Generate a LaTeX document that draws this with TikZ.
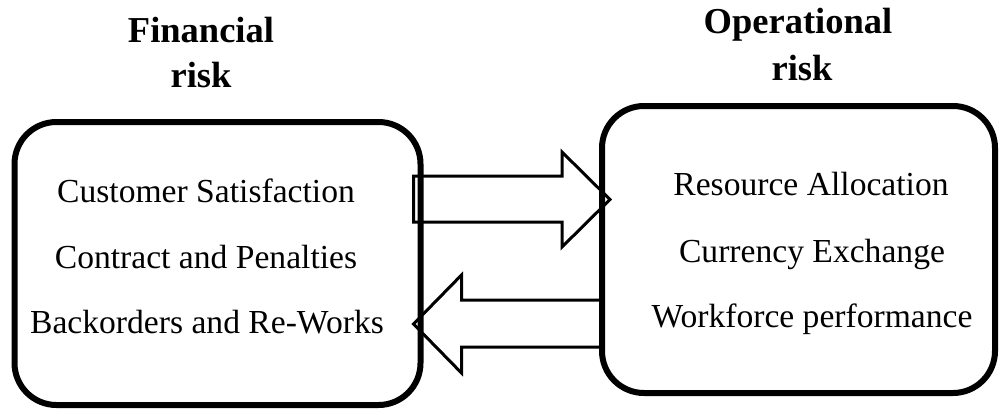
\documentclass[tikz,border=0pt]{standalone}
\usepackage{fontspec}
\setmainfont{Liberation Serif}
\usetikzlibrary{calc}
\begin{document}
\begin{tikzpicture}[x=1pt,y=-1pt,
  riskbox/.style={draw=black, line width=6pt, rounded corners=42pt, inner sep=0pt, outer sep=0pt},
  itemtext/.style={anchor=base, inner sep=0pt, font=\fontsize{33.6}{40}\selectfont},
  titletext/.style={anchor=base, inner sep=0pt, font=\fontsize{36.5}{44}\selectfont\bfseries},
  blockarrow/.style={draw=black, line width=3pt, line join=miter}
]
\useasboundingbox (0,0) rectangle (1001,412);
% boxes
\node[riskbox, minimum width=406pt, minimum height=283pt] (L) at (217.5,263.5) {};
\node[riskbox, minimum width=393pt, minimum height=287pt] (R) at (798.5,249.5) {};
% titles
\node[titletext] (ft1) at (201,43) {Financial};
\node[titletext] (ft2) at (201,88) {risk};
\node[titletext] (ot1) at (798,34) {Operational};
\node[titletext] (ot2) at (802,81) {risk};
% left items
\node[itemtext] (l1) at (206,202) {Customer Satisfaction};
\node[itemtext] (l2) at (206,268) {Contract and Penalties};
\node[itemtext] (l3) at (207,333) {Backorders and Re-Works};
% right items
\node[itemtext] (r1) at (811,195) {Resource Allocation};
\node[itemtext] (r2) at (812,262) {Currency Exchange};
\node[itemtext] (r3) at (812,327) {Workforce performance};
% top block arrow L -> R
\draw[blockarrow]
  ($(L.east |- 0,176)+(-7,0)$) -- ($(R.west |- 0,176)+(-40,0)$)
  -- ($(R.west |- 0,152)+(-40,0)$) -- ($(R.west |- 0,199.5)+(8,0)$)
  -- ($(R.west |- 0,247)+(-40,0)$) -- ($(R.west |- 0,222)+(-40,0)$)
  -- ($(L.east |- 0,222)+(-7,0)$) -- cycle;
% bottom block arrow R -> L
\draw[blockarrow]
  (R.west |- 0,300) -- ($(L.east |- 0,300)+(41,0)$)
  -- ($(L.east |- 0,275)+(41,0)$) -- ($(L.east |- 0,324)+(-7,0)$)
  -- ($(L.east |- 0,373)+(41,0)$) -- ($(L.east |- 0,347)+(41,0)$)
  -- (R.west |- 0,347);
\end{tikzpicture}
\end{document}
